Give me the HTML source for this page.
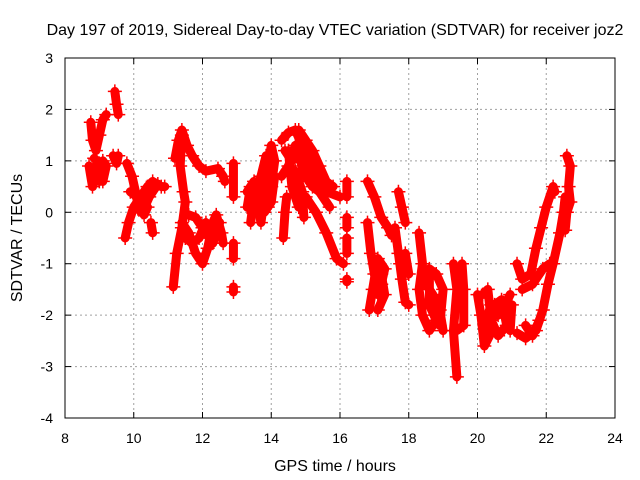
<!DOCTYPE html>
<html><head><meta charset="utf-8"><style>
body{margin:0;background:#fff}
svg{display:block;font-family:"Liberation Sans",sans-serif}
</style></head><body>
<svg id="c" width="640" height="480">
<rect width="640" height="480" fill="#fff"/>
<text x="335" y="35" font-size="16" text-anchor="middle">Day 197 of 2019, Sidereal Day-to-day VTEC variation (SDTVAR) for receiver joz2</text>
<text x="335" y="471" font-size="16" text-anchor="middle">GPS time / hours</text>
<text transform="translate(22,238) rotate(-90)" font-size="16" text-anchor="middle">SDTVAR / TECUs</text>
<g id="grid"></g><g id="marks"></g>
<rect x="65" y="58" width="550" height="360" fill="none" stroke="#000"/>
</svg>
<script>
const xTicks=[8,10,12,14,16,18,20,22,24];
const yTicks=[3,2,1,0,-1,-2,-3,-4];
const tracks=[
[[8.75,1.75],[8.8,1.4],[8.9,1.2],[9.0,1.5],[9.1,1.8],[9.2,1.9]],
[[8.7,0.9],[8.8,0.5],[8.9,0.9],[9.0,0.6],[9.1,1.0],[9.2,0.9],[9.1,0.6]],
[[8.8,0.8],[8.9,0.6],[9.0,0.95],[8.85,1.05]],
[[9.45,2.35],[9.5,2.1],[9.55,1.9]],
[[9.4,1.1],[9.5,0.95],[9.55,1.1]],
[[9.75,-0.5],[9.85,-0.2],[10.0,0.1],[10.2,0.3],[10.4,0.5],[10.55,0.6],[10.8,0.5],[10.9,0.5]],
[[9.8,0.95],[9.95,0.7],[10.05,0.4],[10.15,0.05],[10.25,0.0],[10.45,0.3],[10.7,0.55]],
[[9.9,0.4],[10.1,0.3],[10.3,-0.05],[10.4,0.1]],
[[10.5,-0.2],[10.55,-0.4]],
[[11.2,1.05],[11.3,1.4],[11.4,1.6],[11.55,1.3],[11.7,1.1],[11.9,0.9],[12.1,0.8],[12.45,0.85],[12.6,0.7],[12.65,0.6]],
[[11.4,1.5],[11.35,0.9],[11.45,0.4],[11.5,0.2],[11.4,-0.3],[11.25,-0.8],[11.15,-1.45]],
[[11.4,-0.2],[11.6,-0.4],[11.8,-0.8],[12.0,-1.0],[12.15,-0.7],[12.3,-0.2],[12.4,-0.05],[12.55,-0.4],[12.6,-0.6]],
[[11.6,-0.05],[11.8,-0.1],[12.0,-0.3],[12.2,-0.5],[12.4,-0.3]],
[[11.5,-0.5],[11.7,-0.6],[11.9,-0.5],[12.1,-0.2],[12.3,-0.6],[12.5,-0.2]],
[[12.9,0.95],[12.9,0.3]],[[12.9,-0.6],[12.9,-0.9]],[[12.9,-1.45],[12.9,-1.55]],
[[13.3,0.1],[13.4,0.5],[13.6,0.2],[13.7,-0.2],[13.8,0.3],[13.9,0.8],[14.0,1.3],[14.1,1.0],[14.0,0.5],[13.9,0.1]],
[[13.4,-0.2],[13.5,0.3],[13.7,0.7],[13.85,1.1]],
[[13.3,0.4],[13.5,0.6],[13.6,0.5],[13.8,0.0],[14.0,0.2],[14.1,0.7]],
[[14.3,1.4],[14.5,1.55],[14.7,1.6],[14.9,1.3],[15.1,1.0],[15.3,0.7],[15.6,0.4],[16.0,0.3]],
[[14.5,1.2],[14.6,0.5],[14.8,0.1],[15.0,0.3],[15.3,0.0],[15.6,-0.4],[15.9,-0.9],[16.1,-1.0]],
[[14.45,0.3],[14.4,0.0],[14.35,-0.5]],
[[14.8,1.6],[15.0,1.4],[15.2,1.2],[15.4,0.9],[15.6,0.6],[15.8,0.5]],
[[14.7,0.8],[14.9,0.4],[14.95,-0.1]],
[[14.4,1.2],[14.6,1.0],[14.8,1.1],[15.0,0.7],[15.2,0.5],[15.4,0.4],[15.7,0.1]],
[[14.3,0.7],[14.5,0.9],[14.7,1.3],[14.9,0.9],[15.1,0.6]],
[[16.2,0.6],[16.2,0.3]],[[16.2,-0.3],[16.2,-0.1]],[[16.2,-0.8],[16.2,-0.5]],[[16.2,-1.35],[16.2,-1.3]],
[[16.8,0.6],[17.0,0.3],[17.2,-0.1],[17.4,-0.3],[17.5,-0.45]],
[[16.8,-0.2],[16.9,-0.8],[17.0,-1.2],[17.1,-1.6],[17.2,-1.4],[17.3,-1.1],[17.1,-0.9],[16.95,-1.5],[16.85,-1.9]],
[[17.0,-1.0],[17.2,-1.2],[17.3,-1.6],[17.1,-1.9]],
[[17.7,0.4],[17.8,0.1],[17.9,-0.2]],
[[17.6,-0.3],[17.7,-0.8],[17.8,-1.3],[17.9,-1.75],[18.0,-1.8]],
[[17.75,-1.0],[17.9,-0.8],[18.0,-1.2]],
[[18.3,-0.4],[18.4,-1.0],[18.3,-1.5],[18.4,-2.0],[18.6,-2.3],[18.8,-2.1],[18.6,-1.8],[18.6,-1.1],[18.8,-1.2],[19.0,-1.5],[18.9,-2.2]],
[[18.5,-1.4],[18.7,-1.6],[18.9,-1.9],[19.0,-2.3]],
[[19.3,-1.0],[19.4,-1.5],[19.3,-2.3],[19.4,-3.2]],
[[19.4,-2.3],[19.6,-2.2],[19.6,-1.5],[19.55,-1.0]],
[[20.0,-1.6],[20.1,-2.0],[20.2,-2.6],[20.35,-2.4],[20.5,-1.8],[20.7,-1.7],[20.85,-2.2],[20.6,-2.4],[20.4,-2.1],[20.3,-1.5],[20.15,-1.6]],
[[20.2,-2.2],[20.4,-1.8],[20.6,-2.0],[20.8,-1.8],[20.95,-1.6]],
[[20.9,-2.0],[21.0,-1.8],[20.95,-2.3]],
[[21.15,-1.0],[21.3,-1.3],[21.55,-1.2],[21.7,-0.7],[21.85,-0.3],[22.0,0.1],[22.2,0.5],[22.25,0.4]],
[[21.15,-2.35],[21.4,-2.45],[21.7,-2.3],[21.9,-1.9],[22.05,-1.4],[22.2,-1.0],[22.4,-0.4],[22.5,0.0],[22.55,0.3]],
[[21.3,-1.5],[21.6,-1.4],[21.9,-1.1],[22.1,-1.0]],
[[21.4,-2.2],[21.6,-2.4],[21.8,-2.1]],
[[22.6,1.1],[22.7,0.9],[22.65,0.5],[22.7,0.2],[22.6,0.0],[22.55,-0.35]]
];
const X=v=>65+(v-8)*550/16, Y=v=>58+(3-v)*360/7;
const NS='http://www.w3.org/2000/svg';
const g=document.getElementById('grid'), m=document.getElementById('marks');
function mk(t,a,p){const e=document.createElementNS(NS,t);for(const k in a)e.setAttribute(k,a[k]);p.appendChild(e);return e;}
xTicks.forEach(v=>{
 if(v>8&&v<24)mk('line',{x1:X(v),x2:X(v),y1:58,y2:418,stroke:'#a0a0a0','stroke-dasharray':'2,3'},g);
 mk('line',{x1:X(v),x2:X(v),y1:418,y2:412,stroke:'#000'},g);mk('line',{x1:X(v),x2:X(v),y1:58,y2:64,stroke:'#000'},g);
 const t=mk('text',{x:X(v),y:443,'font-size':14,'text-anchor':'middle'},g);t.textContent=v;
 
 
});
yTicks.forEach(v=>{
 if(v<3&&v>-4)mk('line',{x1:65,x2:615,y1:Y(v),y2:Y(v),stroke:'#a0a0a0','stroke-dasharray':'2,3'},g);
 mk('line',{x1:65,x2:71,y1:Y(v),y2:Y(v),stroke:'#000'},g);mk('line',{x1:609,x2:615,y1:Y(v),y2:Y(v),stroke:'#000'},g);
 const t=mk('text',{x:53,y:Y(v)+5,'font-size':14,'text-anchor':'end'},g);t.textContent=v;
 
 
});
tracks.forEach((tr,i)=>{
 const pl=mk('polyline',{points:tr.map(p=>X(p[0])+','+Y(p[1])).join(' '),fill:'none',stroke:'#f00','stroke-width':9,'stroke-linejoin':'round','stroke-linecap':'round'},m);
 
 
 tr.forEach(p=>{
  const x=X(p[0]),y=Y(p[1]);
  const c=mk('path',{d:`M${x-7},${y}h14M${x},${y-7}v14`,stroke:'#f00','stroke-width':1.5},m);
  
  
 });
});
</script>
</body></html>
